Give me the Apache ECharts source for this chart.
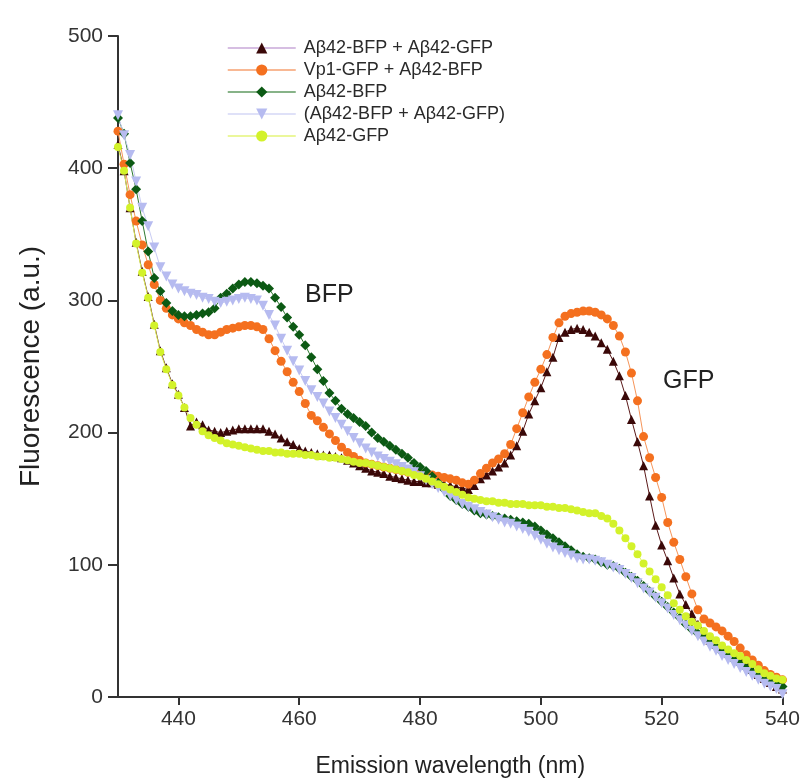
<!DOCTYPE html>
<html>
<head>
<meta charset="utf-8">
<script src="https://cdn.jsdelivr.net/npm/echarts@6/dist/echarts.min.js"></script>
<style>
html,body{margin:0;padding:0;background:#fff;}
#chart{width:803px;height:783px;}
</style>
</head>
<body>
<div id="chart"></div>
<script>
const wavelengths = [430,431,432,433,434,435,436,437,438,439,440,441,442,443,444,445,446,447,448,449,450,451,452,453,454,455,456,457,458,459,460,461,462,463,464,465,466,467,468,469,470,471,472,473,474,475,476,477,478,479,480,481,482,483,484,485,486,487,488,489,490,491,492,493,494,495,496,497,498,499,500,501,502,503,504,505,506,507,508,509,510,511,512,513,514,515,516,517,518,519,520,521,522,523,524,525,526,527,528,529,530,531,532,533,534,535,536,537,538,539,540];

const seriesNames = ['Aβ42-BFP + Aβ42-GFP','Vp1-GFP + Aβ42-BFP','Aβ42-BFP','(Aβ42-BFP + Aβ42-GFP)','Aβ42-GFP'];

const bfpGfpMix = [418,398,370,344,322,303,282,262,249,237,229,219,205,208,206,202,201,200,201,202,203,203,203,203,203,201,199,196,193,191,188,186,185,184,183,183,182,181,179,177,175,173,171,170,169,167,166,165,164,163,163,162,162,161,161,160,159,158,157,160,165,168,171,174,177,183,190,201,214,224,234,246,257,272,276,278,279,278,276,273,268,263,254,243,228,210,193,175,152,130,115,103,90,78,70,63,55,48,43,40,38,35,32,29,26,21,17,14,11,8,6];

const vp1Bfp = [428,403,380,360,342,327,312,300,294,289,286,283,281,278,276,274,274,276,278,279,280,281,281,280,278,271,262,254,246,238,231,222,213,209,204,199,194,189,185,182,179,177,176,175,174,173,172,171,170,170,169,169,168,167,166,165,164,162,161,164,169,173,177,180,184,191,203,215,227,238,248,259,272,283,288,290,291,292,292,291,289,286,281,273,261,245,224,197,181,166,151,132,117,104,91,78,66,59,56,53,50,46,42,37,32,28,24,20,17,15,13];

const bfpOnly = [438,426,404,384,360,337,317,307,298,292,289,288,288,289,290,291,294,302,305,309,312,314,314,313,311,309,302,295,287,280,274,266,257,248,239,230,224,218,214,211,208,205,200,196,193,190,187,184,181,177,174,171,167,162,157,152,149,146,144,141,139,138,137,136,135,134,133,132,131,129,126,123,120,117,114,111,108,106,105,104,102,100,99,97,94,91,88,84,80,76,72,68,64,60,55,51,48,45,42,38,34,31,28,25,22,19,16,14,12,10,8];

const sumSeparate = [440,425,410,390,370,356,340,325,318,312,309,307,305,304,302,301,299,298,299,300,301,302,301,300,296,289,281,271,262,254,247,239,232,227,222,216,211,206,201,196,192,188,185,182,180,178,176,174,172,170,167,164,161,158,155,152,149,146,144,142,140,138,136,134,132,131,129,127,125,122,119,116,113,111,109,107,105,104,104,103,102,100,98,96,93,90,86,82,79,75,71,67,62,58,54,50,46,42,38,35,31,28,25,22,19,16,13,10,8,6,2];

const gfpOnly = [416,398,370,343,321,302,281,261,248,236,228,219,211,206,201,198,196,194,192,191,190,189,188,187,186,186,185,185,184,184,184,183,183,182,182,181,181,180,179,178,177,177,176,175,174,173,172,171,170,168,167,165,163,161,159,157,155,153,151,150,149,148,148,147,147,146,146,146,145,145,145,144,144,143,143,142,141,140,139,139,137,135,131,126,120,114,108,101,95,89,83,77,71,66,61,57,54,50,46,43,39,36,33,31,28,25,21,18,16,14,13];

const xTicks = [440,460,480,500,520,540];
const yTicks = [0,100,200,300,400,500];

const FONT = "'Liberation Sans', Arial, Helvetica, sans-serif";
const pair = arr => wavelengths.map((w,i)=>[w,arr[i]]);

const styles = [
  {symbol:'triangle', size:9, rot:0, mColor:'#3a0808', lColor:'#5c1a1a', legendLine:'#c9a9d9'},
  {symbol:'circle', size:9, rot:0, mColor:'#f4701f', lColor:'#f6955a', legendLine:'#f6a070'},
  {symbol:'diamond', size:10, rot:0, mColor:'#0c5a14', lColor:'#2e7a30', legendLine:'#5f9a60'},
  {symbol:'triangle', size:10, rot:180, mColor:'#b6bbf0', lColor:'#c9ccf4', legendLine:'#d5d7f6'},
  {symbol:'circle', size:8, rot:0, mColor:'#d3f22a', lColor:'#dff35a', legendLine:'#e4f57a'}
];
const datasets = [bfpGfpMix, vp1Bfp, bfpOnly, sumSeparate, gfpOnly];

const chart = echarts.init(document.getElementById('chart'), null, {renderer:'canvas'});
chart.setOption({
  animation:false,
  backgroundColor:'#ffffff',
  grid:{left:118, right:20, top:36, bottom:82, containLabel:false},
  legend:{
    orient:'vertical', left:222, top:33,
    itemWidth:68, itemHeight:14, itemGap:2,
    textStyle:{fontFamily:FONT, fontSize:18, color:'#2a2a2a', lineHeight:20, padding:[0,0,0,3]},
    data: seriesNames.map((n,i)=>({name:n, lineStyle:{color:styles[i].legendLine, width:1.5}}))
  },
  xAxis:{
    type:'value', min:430, max:540,
    name:'Emission wavelength (nm)', nameLocation:'middle', nameGap:58,
    nameTextStyle:{fontFamily:FONT, fontSize:23, color:'#222'},
    axisLine:{show:true, onZero:false, lineStyle:{color:'#333', width:2}},
    axisTick:{show:true, length:8, inside:false, customValues:xTicks, lineStyle:{color:'#333', width:2}},
    axisLabel:{customValues:xTicks, fontFamily:FONT, fontSize:21, color:'#333', margin:12},
    splitLine:{show:false}
  },
  yAxis:{
    type:'value', min:0, max:500, interval:100,
    name:'Fluorescence (a.u.)', nameLocation:'middle', nameGap:73,
    nameTextStyle:{fontFamily:FONT, fontSize:28, color:'#222'},
    axisLine:{show:true, lineStyle:{color:'#333', width:2}},
    axisTick:{show:true, length:10, inside:false, lineStyle:{color:'#333', width:2}},
    axisLabel:{fontFamily:FONT, fontSize:21, color:'#333', margin:15},
    splitLine:{show:false}
  },
  graphic:[
    {type:'text', left:305, top:283, style:{text:'BFP', fontFamily:FONT, fontSize:25, fill:'#222'}},
    {type:'text', left:663, top:369, style:{text:'GFP', fontFamily:FONT, fontSize:25, fill:'#222'}}
  ],
  series: datasets.map((d,i)=>({
    name:seriesNames[i], type:'line', data:pair(d),
    symbol:styles[i].symbol, symbolSize:styles[i].size, symbolRotate:styles[i].rot,
    showAllSymbol:true, smooth:false,
    lineStyle:{color:styles[i].lColor, width:1},
    itemStyle:{color:styles[i].mColor, borderWidth:0},
    emphasis:{disabled:true}
  }))
});
</script>
</body>
</html>
